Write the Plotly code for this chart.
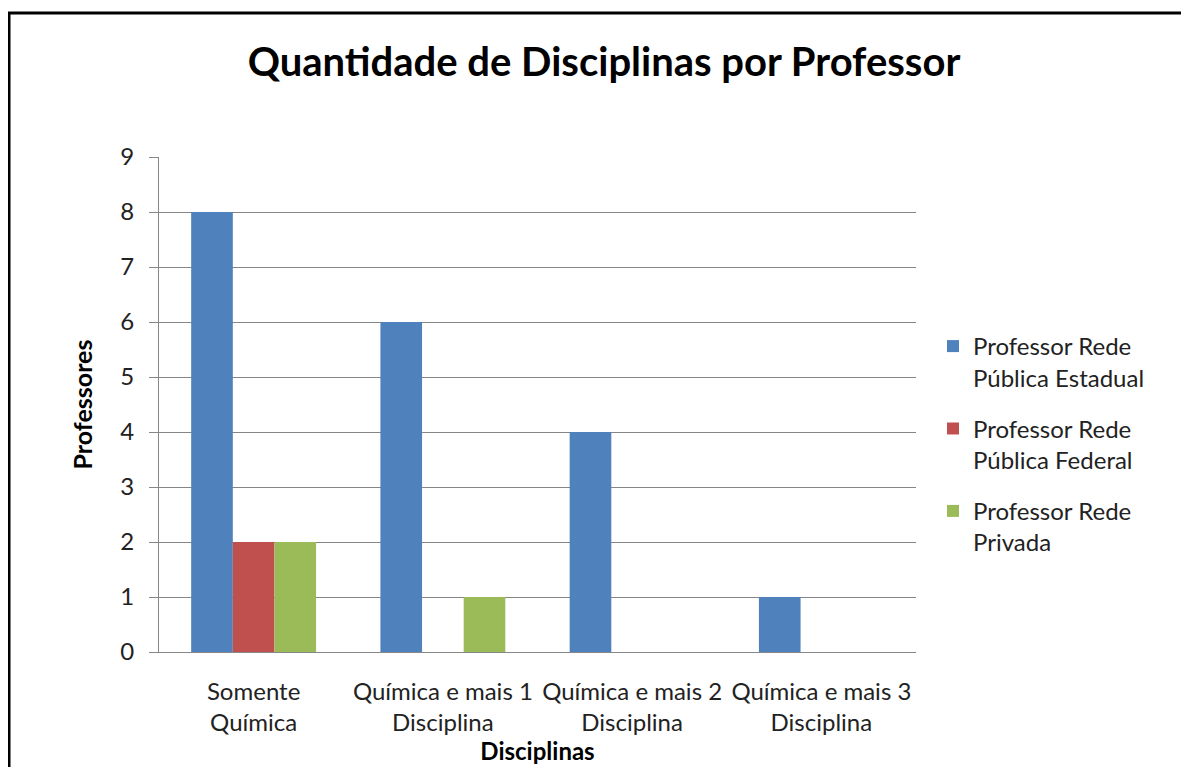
import plotly.graph_objects as go

categories = ["Somente<br>Química", "Química e mais 1<br>Disciplina",
              "Química e mais 2<br>Disciplina", "Química e mais 3<br>Disciplina"]
series_names = ["Professor Rede<br>Pública Estadual", "Professor Rede<br>Pública Federal",
                "Professor Rede<br>Privada"]
estadual = [8, 6, 4, 1]
federal = [2, 0, 0, 0]
privada = [2, 1, 0, 0]
colors = ["#4F81BD", "#C0504D", "#9BBB59"]

FONT = "Lato"
OFF = 8  # page body margin

fig = go.Figure()
for i, (name, vals, c) in enumerate(zip(series_names, [estadual, federal, privada], colors)):
    fig.add_trace(go.Bar(x=categories, y=vals, name=name, legendgroup=f"g{i}",
                         marker=dict(color=c, line=dict(width=0))))

W, H = 1189 - OFF, 767 - OFF
L, R, T, B = 159 - OFF, 916 - OFF, 157 - OFF, 652 - OFF
pw, ph = R - L, B - T

def px(x):  # reference screen x -> paper
    return (x - OFF - L) / pw

def py(y):  # reference screen y -> paper
    return (B - (y - OFF)) / ph

fig.update_layout(
    width=W, height=H,
    margin=dict(l=L, r=W - R, t=T, b=H - B, autoexpand=False),
    paper_bgcolor="white", plot_bgcolor="white",
    barmode="group", bargap=0.34, bargroupgap=0,
    font=dict(family=FONT, size=24, color="#222222"),
    title=dict(text="<b>Quantidade de Disciplinas por Professor</b>",
               x=px(604), xref="paper", xanchor="center",
               y=1 - (62 - OFF) / H, yref="container", yanchor="middle",
               font=dict(family=FONT, size=40, color="black")),
    legend=dict(x=px(933), xanchor="left", y=py(324), yanchor="top",
                font=dict(family=FONT, size=24, color="#222222"),
                tracegroupgap=17, valign="top", bgcolor="rgba(0,0,0,0)"),
    showlegend=True,
    xaxis=dict(showline=True, linecolor="#868686", linewidth=1, ticks="",
               ticklabelstandoff=18,
               tickfont=dict(family=FONT, size=24, color="#222222"),
               title=dict(text="<b>Disciplinas</b>", standoff=8,
                          font=dict(family=FONT, size=24, color="black"))),
    yaxis=dict(range=[0, 9], dtick=1, showgrid=True, gridcolor="#868686", gridwidth=1,
               showline=True, linecolor="#868686", linewidth=1,
               ticks="outside", ticklen=9, tickcolor="#868686",
               ticklabelstandoff=10, zeroline=False,
               tickfont=dict(family=FONT, size=24, color="#222222"),
               title=dict(text="<b>Professores</b>", standoff=20,
                          font=dict(family=FONT, size=25, color="black"))),
)

fig.add_shape(type="rect", xref="paper", yref="paper",
              x0=px(9), x1=px(1300), y0=py(13), y1=py(900),
              line=dict(color="black", width=3), fillcolor="rgba(0,0,0,0)", layer="above")

fig.write_html("out.html")
